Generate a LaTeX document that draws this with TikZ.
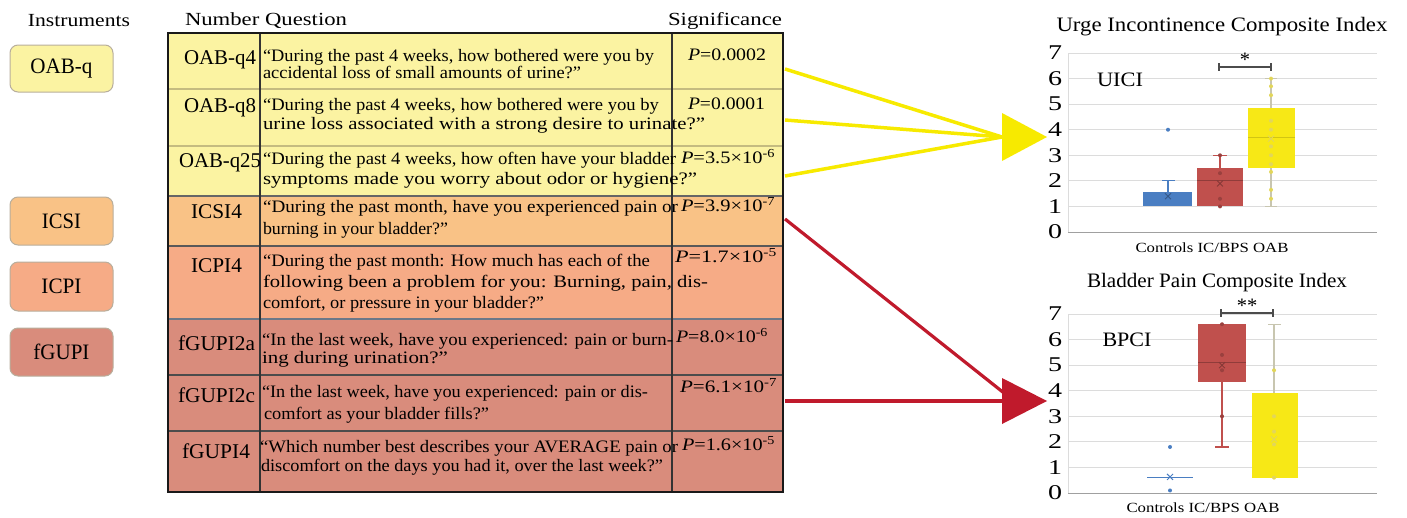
\documentclass[tikz,border=0pt]{standalone}
\usepackage{fontspec}
\setmainfont{Liberation Serif}
\usepackage{graphicx}
\newcommand{\fw}[2]{\resizebox{#1pt}{\height}{#2}}
\newcommand{\meanmark}[2]{\draw[#1, line width=0.9pt] (#2) +(-3pt,-3pt) -- +(3pt,3pt) +(-3pt,3pt) -- +(3pt,-3pt);}
\definecolor{tyel}{HTML}{FBF3A2}
\definecolor{torg}{HTML}{F9C286}
\definecolor{tsal}{HTML}{F6AB86}
\definecolor{tbrk}{HTML}{D98C7C}
\definecolor{instline}{HTML}{B8AE9C}
\definecolor{ylin}{HTML}{C4BB80}
\definecolor{ayel}{HTML}{F7EA00}
\definecolor{ared}{HTML}{C01A2C}
\definecolor{cblue}{HTML}{4A7EC2}
\definecolor{cred}{HTML}{C0504D}
\definecolor{cyel}{HTML}{F7E816}
\definecolor{cydot}{HTML}{E2D65A}
\definecolor{cwhisk}{HTML}{C8C6B0}
\definecolor{gridc}{HTML}{DCDCDC}
\definecolor{axc}{HTML}{A0A0A0}
\definecolor{gsep}{HTML}{6C7888}
\begin{document}
\begin{tikzpicture}[x=1pt,y=-1pt,
  every node/.style={inner sep=0pt, outer sep=0pt},
  hd/.style={font=\fontsize{18.5}{20}\selectfont},
  lab/.style={font=\fontsize{21}{23}\selectfont},
  qt/.style={anchor=mid west, font=\fontsize{17.5}{19}\selectfont},
  pv/.style={anchor=mid west, font=\fontsize{17.5}{19}\selectfont},
  inst/.style={draw=instline, line width=1pt, rounded corners=8pt, minimum width=103pt, font=\fontsize{22}{24}\selectfont},
  tk/.style={font=\fontsize{21}{23}\selectfont},
  ttl/.style={font=\fontsize{20.5}{22}\selectfont},
  xl/.style={font=\fontsize{14}{16}\selectfont},
  grid/.style={draw=gridc, line width=0.8pt},
  axis/.style={draw=axc, line width=1pt},
  sig/.style={draw=black!70, line width=1.1pt},
  yarr/.style={draw=ayel, line width=3.5pt},
  rarr/.style={draw=ared, line width=3.2pt}]
\useasboundingbox (0,0) rectangle (1407,517);

% ---------------- headers
\node[hd] (hInst) at (79,21) {\fw{102}{Instruments}};
\node[hd] (hNum) at (266,21) {\fw{162}{Number Question}};
\node[hd] (hSig) at (725,21) {\fw{114}{Significance}};

% ---------------- instrument boxes
\node[inst, fill=tyel, minimum height=47pt] (iOAB) at (61.5,68.5) {\fw{62}{OAB-q}};
\node[inst, fill=torg, minimum height=48pt] (iICSI) at (61.5,221) {\fw{39}{ICSI}};
\node[inst, fill=tsal, minimum height=49pt] (iICPI) at (61.5,286.5) {\fw{40}{ICPI}};
\node[inst, fill=tbrk, minimum height=48pt] (ifGUPI) at (61.5,352) {\fw{56}{fGUPI}};

% ---------------- table fills
\fill[tyel] (168,33) rectangle (783,196);
\fill[torg] (168,196) rectangle (783,246);
\fill[tsal] (168,246) rectangle (783,319);
\fill[tbrk] (168,319) rectangle (783,492);
% row lines
\draw[ylin, line width=1.3pt] (168,89) -- (783,89) (168,146) -- (783,146);
\draw[black!60, line width=1.5pt] (168,196) -- (783,196);
\draw[black!65, line width=1.5pt] (168,246) -- (783,246);
\draw[gsep, line width=2pt] (168,319) -- (783,319);
\draw[black!70, line width=1.3pt] (168,375) -- (783,375) (168,431) -- (783,431);
% column lines
\draw[black!80, line width=1.2pt] (260,33) -- (260,492) (672,33) -- (672,492);
% outer border
\draw[black!90, line width=2.2pt] (168,33) rectangle (783,492);

% ---------------- number column
\node[lab] (n1) at (220,60) {\fw{72}{OAB-q4}};
\node[lab] (n2) at (220,108) {\fw{72}{OAB-q8}};
\node[lab] (n3) at (220,163) {\fw{82}{OAB-q25}};
\node[lab] (n4) at (216.5,212) {\fw{51}{ICSI4}};
\node[lab] (n5) at (216.5,266) {\fw{51}{ICPI4}};
\node[lab] (n6) at (216.5,343) {\fw{77}{fGUPI2a}};
\node[lab] (n7) at (216.5,395) {\fw{77}{fGUPI2c}};
\node[lab] (n8) at (216,451) {\fw{68}{fGUPI4}};

% ---------------- question column
\node[qt] (q1a) at (263,59) {\fw{391}{“During the past 4 weeks, how bothered were you by}};
\node[qt] (q1b) at (263,76) {\fw{318}{accidental loss of small amounts of urine?”}};
\node[qt] (q2a) at (263,108) {\fw{396}{“During the past 4 weeks, how bothered were you by}};
\node[qt] (q2b) at (263,127) {\fw{442}{urine loss associated with a strong desire to urinate?”}};
\node[qt] (q3a) at (263,162) {\fw{413}{“During the past 4 weeks, how often have your bladder}};
\node[qt] (q3b) at (263,182) {\fw{434}{symptoms made you worry about odor or hygiene?”}};
\node[qt] (q4a) at (263,210) {\fw{415}{“During the past month, have you experienced pain or}};
\node[qt] (q4b) at (263,232) {\fw{185}{burning in your bladder?”}};
\node[qt] (q5a) at (263,264) {\fw{387}{“During the past month: How much has each of the}};
\node[qt] (q5b) at (263,285) {\fw{445}{following been a problem for you: Burning, pain, dis-}};
\node[qt] (q5c) at (263,306) {\fw{281}{comfort, or pressure in your bladder?”}};
\node[qt] (q6a) at (262,343) {\fw{411}{“In the last week, have you experienced: pain or burn-}};
\node[qt] (q6b) at (262,361) {\fw{186}{ing during urination?”}};
\node[qt] (q7a) at (262,395) {\fw{386}{“In the last week, have you experienced: pain or dis-}};
\node[qt] (q7b) at (264,417) {\fw{225}{comfort as your bladder fills?”}};
\node[qt] (q8a) at (260,450) {\fw{418}{“Which number best describes your AVERAGE pain or}};
\node[qt] (q8b) at (261,469) {\fw{402}{discomfort on the days you had it, over the last week?”}};

% ---------------- significance column
\node[pv] (p1) at (688,58) {\fw{78}{\textit{P}=0.0002}};
\node[pv] (p2) at (688,107) {\fw{77}{\textit{P}=0.0001}};
\node[pv] (p3) at (681,161) {\fw{94}{\textit{P}=3.5×10\textsuperscript{-6}}};
\node[pv] (p4) at (681,209) {\fw{94}{\textit{P}=3.9×10\textsuperscript{-7}}};
\node[pv] (p5) at (675,260) {\fw{102}{\textit{P}=1.7×10\textsuperscript{-5}}};
\node[pv] (p6) at (676,340) {\fw{92}{\textit{P}=8.0×10\textsuperscript{-6}}};
\node[pv] (p7) at (680,390) {\fw{97}{\textit{P}=6.1×10\textsuperscript{-7}}};
\node[pv] (p8) at (682,448) {\fw{93}{\textit{P}=1.6×10\textsuperscript{-5}}};

% ---------------- arrows
\coordinate (a1) at (785,69);
\coordinate (a2) at (785,120);
\coordinate (a3) at (785,176);
\coordinate (yh) at (1002,137);
\draw[yarr] (a1) -- (yh);
\draw[yarr] (a2) -- (yh);
\draw[yarr] (a3) -- (yh);
\fill[ayel] (yh) ++(0,-24) -- ++(45,24) -- ++(-45,24) -- cycle;

\coordinate (b1) at (785,219);
\coordinate (b2) at (785,401);
\coordinate (rh) at (1002,401);
\coordinate (rd) at (1004,393);
\draw[rarr] (b1) -- (rd);
\draw[rarr] (b2) -- (rh);
\fill[ared] (rh) ++(0,-23) -- ++(45,23) -- ++(-45,23) -- cycle;

% ---------------- chart 1
\node[ttl] (t1) at (1222,27) {\fw{331}{Urge Incontinence Composite Index}};
\begin{scope}[shift={(0,232)}, y={(0pt,25.57pt)}]
  \foreach \v in {1,...,7} \draw[grid] (1068,\v) -- (1377,\v);
  \draw[grid] (1068,0) -- (1068,7);
  \draw[axis] (1068,0) -- (1377,0);
  \foreach \v in {0,...,7} \node[tk] (ua\v) at (1055,\v) {\fw{14}{\v}};
  % controls
  \fill[cblue] (1143,1) rectangle (1192,1.56);
  \draw[cblue, line width=1.2pt] (1168,1.56) -- (1168,2) (1162,2) -- (1175,2);
  \fill[cblue] (1168,4) circle[radius=2pt];
  \meanmark{cblue!70!black}{1168,1.4}
  % IC/BPS
  \fill[cred] (1197,1) rectangle (1243,2.5);
  \draw[cred!75!black, line width=1.1pt] (1197,2) -- (1243,2);
  \draw[cred, line width=1.2pt] (1220,2.5) -- (1220,3) (1213,3) -- (1227,3);
  \foreach \d in {3,2.3,1.3,1} \fill[cred!80!black] (1220,\d) circle[radius=2pt];
  \meanmark{cred!70!black}{1220,1.9}
  % OAB
  \draw[cwhisk, line width=1.1pt] (1271,4.85) -- (1271,6) (1265,6) -- (1277,6) (1271,2.5) -- (1271,1) (1265,1) -- (1277,1);
  \fill[cyel] (1248,2.5) rectangle (1295,4.85);
  \draw[cyel!85!black, line width=1pt] (1248,3.7) -- (1295,3.7);
  \foreach \d in {6,5.7,5.35,4.35,4,3.35,3,2.65,2.35,1.65,1.3} \fill[cydot] (1271,\d) circle[radius=2pt];
  \meanmark{cydot}{1271,3.65}
\end{scope}
\node[ttl] (uici) at (1120,80) {\fw{46}{UICI}};
\draw[sig] (1219,63) -- (1219,71) (1219,67) -- (1271,67) (1271,63) -- (1271,71);
\node[ttl] (s1) at (1245,60) {*};
\node[xl] (x1) at (1212,248) {\fw{153}{Controls IC/BPS OAB}};

% ---------------- chart 2
\node[ttl] (t2) at (1217,283) {\fw{260}{Bladder Pain Composite Index}};
\begin{scope}[shift={(0,493)}, y={(0pt,25.57pt)}]
  \foreach \v in {1,...,7} \draw[grid] (1068,\v) -- (1377,\v);
  \draw[grid] (1068,0) -- (1068,7);
  \draw[axis] (1068,0) -- (1377,0);
  \foreach \v in {0,...,7} \node[tk] (ba\v) at (1055,\v) {\fw{14}{\v}};
  % controls
  \draw[cblue, line width=1.5pt] (1147,0.6) -- (1193,0.6);
  \fill[cblue] (1170,1.8) circle[radius=2pt];
  \fill[cblue] (1170,0.1) circle[radius=2pt];
  \meanmark{cblue}{1170,0.63}
  % IC/BPS
  \draw[cred, line width=1.2pt] (1222,4.35) -- (1222,1.8) (1215,1.8) -- (1229,1.8);
  \fill[cred] (1198,4.35) rectangle (1246,6.6);
  \draw[cred!75!black, line width=1.1pt] (1198,5.1) -- (1246,5.1);
  \foreach \d in {6.6,5.4,4.8,3} \fill[cred!80!black] (1222,\d) circle[radius=2pt];
  \meanmark{cred!70!black}{1222,5.0}
  % OAB
  \draw[cwhisk, line width=1.1pt] (1274,3.9) -- (1274,6.6) (1268,6.6) -- (1281,6.6) (1268,0.6) -- (1281,0.6);
  \fill[cyel] (1252,0.6) rectangle (1298,3.9);
  \foreach \d in {4.8,3,2.4,1.9,0.6} \fill[cydot] (1274,\d) circle[radius=2pt];
  \meanmark{cydot}{1274,2.1}
\end{scope}
\node[ttl] (bpci) at (1127,340) {\fw{49}{BPCI}};
\draw[sig] (1221,309) -- (1221,317) (1221,313) -- (1273,313) (1273,309) -- (1273,317);
\node[ttl] (s2) at (1247,306) {**};
\node[xl] (x2) at (1203,508) {\fw{153}{Controls IC/BPS OAB}};
\end{tikzpicture}
\end{document}
